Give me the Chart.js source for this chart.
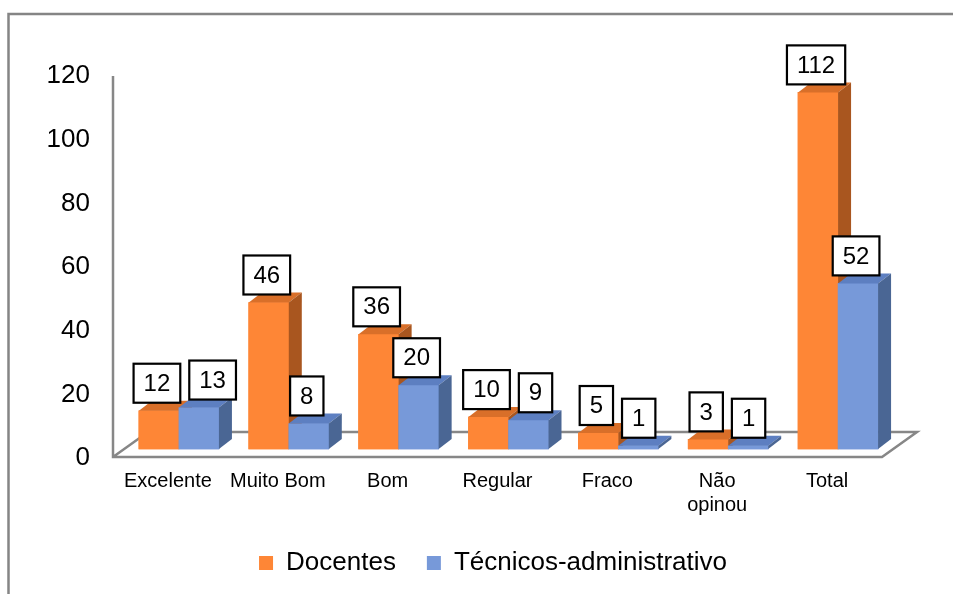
<!DOCTYPE html>
<html><head><meta charset="utf-8">
<script src="https://cdn.jsdelivr.net/npm/chart.js@4/dist/chart.umd.min.js"></script>
<style>html,body{margin:0;padding:0;background:#fff}canvas{display:block}</style>
</head><body>
<canvas id="c" width="953" height="594"></canvas>
<script>
// ---- data ----
const categories = ['Excelente', 'Muito Bom', 'Bom', 'Regular', 'Fraco', ['Não', 'opinou'], 'Total'];
const docentes = [12, 46, 36, 10, 5, 3, 112];
const tecnicos = [13, 8, 20, 9, 1, 1, 52];
const seriesNames = ['Docentes', 'Técnicos-administrativo'];
const yTickValues = [0, 20, 40, 60, 80, 100, 120];

// ---- style ----
const FONT = 'Arial, "Liberation Sans", sans-serif';
const FRONT = ['#FE8636', '#7799D9'];
const TOPC = ['#D96F29', '#5D7FC1'];
const SIDE = ['#A9561F', '#4A6694'];
const DEPTH = { dx: 13, dy: 10 };
const FLOOR = { dx: 35, dy: 25, shift: -11 };
const BAR_LIFT = 2.85;       // bar baseline raised above floor front edge (value units)
const LEGEND_LEFT = 93;      // legend box centred over the frame

function drawFaces(ctx, el, d) {
  const p = el.getProps(['x', 'y', 'base', 'width'], true);
  const l = p.x - p.width / 2, r = p.x + p.width / 2;
  ctx.fillStyle = TOPC[d];
  ctx.beginPath();
  ctx.moveTo(l, p.y); ctx.lineTo(r, p.y);
  ctx.lineTo(r + DEPTH.dx, p.y - DEPTH.dy); ctx.lineTo(l + DEPTH.dx, p.y - DEPTH.dy);
  ctx.closePath(); ctx.fill();
  ctx.fillStyle = SIDE[d];
  ctx.beginPath();
  ctx.moveTo(r, p.y); ctx.lineTo(r + DEPTH.dx, p.y - DEPTH.dy);
  ctx.lineTo(r + DEPTH.dx, p.base - DEPTH.dy); ctx.lineTo(r, p.base);
  ctx.closePath(); ctx.fill();
}

const framePlugin = {
  id: 'frame',
  afterLayout(chart) {
    if (chart.legend) chart.legend.left = LEGEND_LEFT;
  },
  beforeDraw(chart) {
    const ctx = chart.ctx;
    ctx.save();
    ctx.fillStyle = '#fff';
    ctx.fillRect(0, 0, chart.width, chart.height);
    ctx.strokeStyle = '#858585';
    ctx.lineWidth = 2.5;
    ctx.beginPath();
    ctx.moveTo(8.5, chart.height + 5);
    ctx.lineTo(8.5, 14);
    ctx.lineTo(chart.width + 5, 14);
    ctx.stroke();
    ctx.restore();
  },
  beforeDatasetsDraw(chart) {
    const ctx = chart.ctx;
    const a = chart.chartArea;
    const ys = chart.scales.y;
    const y0 = ys.getPixelForValue(0) - 1;
    const yTop = ys.getPixelForValue(120);
    const l = a.left + FLOOR.shift, r = a.right + FLOOR.shift;
    ctx.save();
    ctx.strokeStyle = '#878787';
    ctx.lineWidth = 2.5;
    ctx.beginPath();
    ctx.moveTo(l, yTop);
    ctx.lineTo(l, y0);
    ctx.lineTo(r, y0);
    ctx.lineTo(r + FLOOR.dx, y0 - FLOOR.dy);
    ctx.lineTo(l + FLOOR.dx, y0 - FLOOR.dy);
    ctx.lineTo(l, y0);
    ctx.stroke();
    ctx.restore();
  },
  afterDatasetsDraw(chart) {
    const ctx = chart.ctx;
    ctx.save();
    // redraw bars in series order so the second series' fronts cover the first series' side faces
    chart.data.datasets.forEach((ds, d) => {
      chart.getDatasetMeta(d).data.forEach(el => {
        el.draw(ctx);
        drawFaces(ctx, el, d);
      });
    });
    // value boxes
    ctx.font = '24px ' + FONT;
    const n = chart.data.labels.length;
    for (let i = 0; i < n; i++) {
      let prev = null;
      chart.data.datasets.forEach((ds, d) => {
        const el = chart.getDatasetMeta(d).data[i];
        const txt = String(ds.data[i]);
        const tw = ctx.measureText(txt).width;
        const w = tw + 20, h = 39;
        let left = el.x - 2 - w / 2;
        const bottom = el.y - 8;
        const top = bottom - h;
        if (prev && top < prev.bottom && bottom > prev.top && left < prev.right + 9) left = prev.right + 9;
        ctx.fillStyle = '#fff';
        ctx.fillRect(left, top, w, h);
        ctx.lineWidth = 2.2;
        ctx.strokeStyle = '#000';
        ctx.strokeRect(left, top, w, h);
        ctx.fillStyle = '#000';
        ctx.textAlign = 'center';
        ctx.textBaseline = 'middle';
        ctx.fillText(txt, left + w / 2, top + h / 2 + 1);
        prev = { left, right: left + w, top, bottom };
      });
    }
    ctx.restore();
  }
};

new Chart(document.getElementById('c'), {
  type: 'bar',
  data: {
    labels: categories,
    datasets: [
      { label: seriesNames[0], data: docentes, backgroundColor: FRONT[0], borderWidth: 0, yAxisID: 'yb' },
      { label: seriesNames[1], data: tecnicos, backgroundColor: FRONT[1], borderWidth: 0, yAxisID: 'yb' }
    ]
  },
  options: {
    responsive: false,
    animation: false,
    layout: { padding: { left: 8, right: 60, top: 76, bottom: 8 } },
    datasets: { bar: { barThickness: 40 } },
    scales: {
      x: {
        type: 'category',
        offset: true,
        grid: { display: false, drawTicks: false },
        border: { display: false },
        ticks: { font: { size: 20, family: FONT }, color: '#000', labelOffset: -11, padding: 11, autoSkip: false, maxRotation: 0 },
        afterFit: s => { s.height = 61; }
      },
      y: {
        type: 'linear',
        position: 'left',
        min: yTickValues[0], max: yTickValues[yTickValues.length - 1],
        grid: { display: false, drawTicks: false },
        border: { display: false },
        ticks: {
          stepSize: yTickValues[1] - yTickValues[0],
          font: { size: 26, family: FONT }, color: '#000', padding: 34,
          callback: v => (yTickValues.includes(v) ? String(v) : '')
        },
        afterFit: s => { s.width = 116; }
      },
      yb: { display: false, min: -BAR_LIFT, max: 120 - BAR_LIFT }
    },
    plugins: {
      legend: {
        position: 'bottom',
        labels: {
          font: { size: 26, family: FONT }, color: '#000',
          boxWidth: 14, boxHeight: 14, padding: 31
        }
      },
      tooltip: { enabled: false }
    }
  },
  plugins: [framePlugin]
});
</script>
</body></html>
